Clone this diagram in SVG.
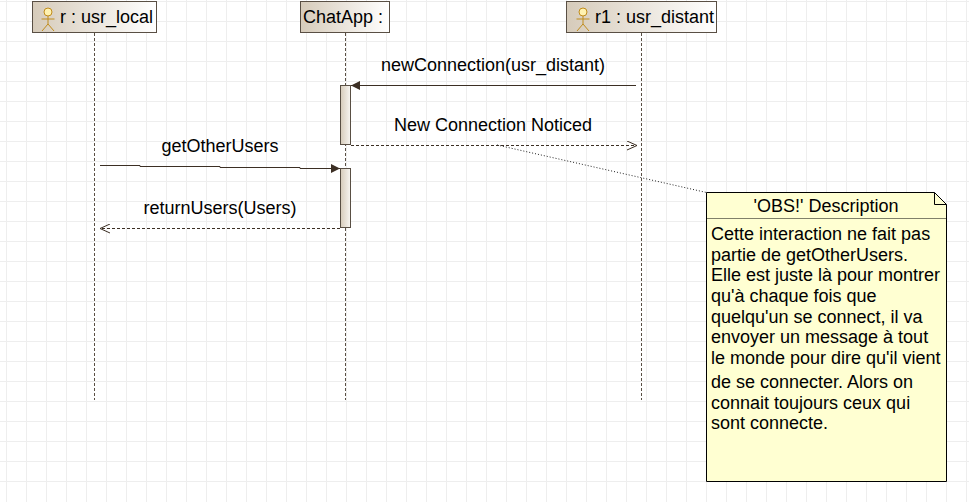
<svg xmlns="http://www.w3.org/2000/svg" width="969" height="502" viewBox="0 0 969 502">
<style>
text{font-family:"Liberation Sans",Arial,sans-serif;font-size:18px;fill:#000}
.m{text-anchor:middle}
.box{stroke:#594f44;stroke-width:1}
.life{stroke:#594f44;stroke-width:1;stroke-dasharray:3 2;fill:none}
.msg{stroke:#3c2f24;stroke-width:1;fill:none}
.ret{stroke:#3c2f24;stroke-width:1;stroke-dasharray:3 2;fill:none}
.act{fill:url(#ga);stroke:#594f44;stroke-width:1}
.stick{fill:none;stroke:#c08c1c;stroke-width:1}
.grid{stroke:#eeeeee;stroke-width:1;fill:none}
</style>
<defs>
<linearGradient id="gh" x1="0" y1="0" x2="1" y2="0"><stop offset="0" stop-color="#d6cbba"/><stop offset="1" stop-color="#ffffff"/></linearGradient>
<linearGradient id="ga" x1="0" y1="0" x2="1" y2="0"><stop offset="0" stop-color="#d6cbba"/><stop offset="1" stop-color="#f8f6f2"/></linearGradient>
<marker id="fill" markerWidth="10" markerHeight="10" refX="9" refY="5" orient="auto" markerUnits="userSpaceOnUse"><path d="M0 0.5L9 5L0 9.5Z" fill="#3c2f24"/></marker>
<marker id="open" markerWidth="12" markerHeight="10" refX="10" refY="5" orient="auto" markerUnits="userSpaceOnUse"><path d="M0 0.5L10 5L0 9.5" fill="none" stroke="#3c2f24"/></marker>
<symbol id="actor" overflow="visible"><circle cx="7" cy="6" r="4" fill="#fff2b0" stroke="#c08c1c"/><path class="stick" d="M7 10V18M0.5 13H13.5M7 18L1 25M7 18L13 25"/></symbol>
</defs>
<path class="grid" d="M6.5 0V502M26.5 0V502M46.5 0V502M66.5 0V502M86.5 0V502M106.5 0V502M126.5 0V502M146.5 0V502M166.5 0V502M186.5 0V502M206.5 0V502M226.5 0V502M246.5 0V502M266.5 0V502M286.5 0V502M306.5 0V502M326.5 0V502M346.5 0V502M366.5 0V502M386.5 0V502M406.5 0V502M426.5 0V502M446.5 0V502M466.5 0V502M486.5 0V502M506.5 0V502M526.5 0V502M546.5 0V502M566.5 0V502M586.5 0V502M606.5 0V502M626.5 0V502M646.5 0V502M666.5 0V502M686.5 0V502M706.5 0V502M726.5 0V502M746.5 0V502M766.5 0V502M786.5 0V502M806.5 0V502M826.5 0V502M846.5 0V502M866.5 0V502M886.5 0V502M906.5 0V502M926.5 0V502M946.5 0V502M966.5 0V502M0 1.5H969M0 21.5H969M0 41.5H969M0 61.5H969M0 81.5H969M0 101.5H969M0 121.5H969M0 141.5H969M0 161.5H969M0 181.5H969M0 201.5H969M0 221.5H969M0 241.5H969M0 261.5H969M0 281.5H969M0 301.5H969M0 321.5H969M0 341.5H969M0 361.5H969M0 381.5H969M0 401.5H969M0 421.5H969M0 441.5H969M0 461.5H969M0 481.5H969"/>
<g id="connectors">
<path class="msg" d="M636 85.5H351" marker-end="url(#fill)"/>
<path class="ret" d="M351 145.5H637" marker-end="url(#open)"/>
<path class="msg" d="M100 165.5H140V166.5H220V167.5H300V168.5H340" marker-end="url(#fill)"/>
<path class="ret" d="M340 228.5H100" marker-end="url(#open)"/>
<path d="M497 145L706.5 192.5" fill="none" stroke="#222" stroke-width="1" stroke-dasharray="1 2"/>
<text class="m" x="493" y="71">newConnection(usr_distant)</text>
<text class="m" x="493" y="131">New Connection Noticed</text>
<text class="m" x="220" y="152">getOtherUsers</text>
<text class="m" x="220" y="214">returnUsers(Users)</text>
</g>
<g id="lifeline-r">
<path class="life" d="M94.5 33V400"/>
<rect class="box" x="32.5" y="1.5" width="124" height="31" fill="url(#gh)"/>
<use href="#actor" x="41" y="6"/>
<text x="60" y="23">r : usr_local</text>
</g>
<g id="lifeline-chatapp">
<path class="life" d="M345.5 33V400"/>
<rect class="box" x="300.5" y="1.5" width="89" height="31" fill="url(#gh)"/>
<text x="303" y="23">ChatApp :</text>
<rect class="act" x="340.5" y="85.5" width="10" height="59"/>
<rect class="act" x="340.5" y="168.5" width="10" height="59"/>
</g>
<g id="lifeline-r1">
<path class="life" d="M641.5 33V400"/>
<rect class="box" x="566.5" y="1.5" width="150" height="31" fill="url(#gh)"/>
<use href="#actor" x="576" y="6"/>
<text x="595" y="23">r1 : usr_distant</text>
</g>
<g id="note">
<path d="M706.5 192.5H934.5L946.5 204.5V481.5H706.5Z" fill="#ffffd2" stroke="#000"/>
<path d="M934.5 192.5V204.5H946.5" fill="none" stroke="#000"/>
<path d="M706.5 218.5H946.5" fill="none" stroke="#000" stroke-dasharray="1 1"/>
<text class="m" x="826" y="212">'OBS!' Description</text>
<text x="711" y="240">Cette interaction ne fait pas</text>
<text x="711" y="261">partie de getOtherUsers.</text>
<text x="711" y="281">Elle est juste là pour montrer</text>
<text x="711" y="302">qu'à chaque fois que</text>
<text x="711" y="323">quelqu'un se connect, il va</text>
<text x="711" y="343">envoyer un message à tout</text>
<text x="711" y="364">le monde pour dire qu'il vient</text>
<text x="711" y="388">de se connecter. Alors on</text>
<text x="711" y="409">connait toujours ceux qui</text>
<text x="711" y="429">sont connecte.</text>
</g>
</svg>
